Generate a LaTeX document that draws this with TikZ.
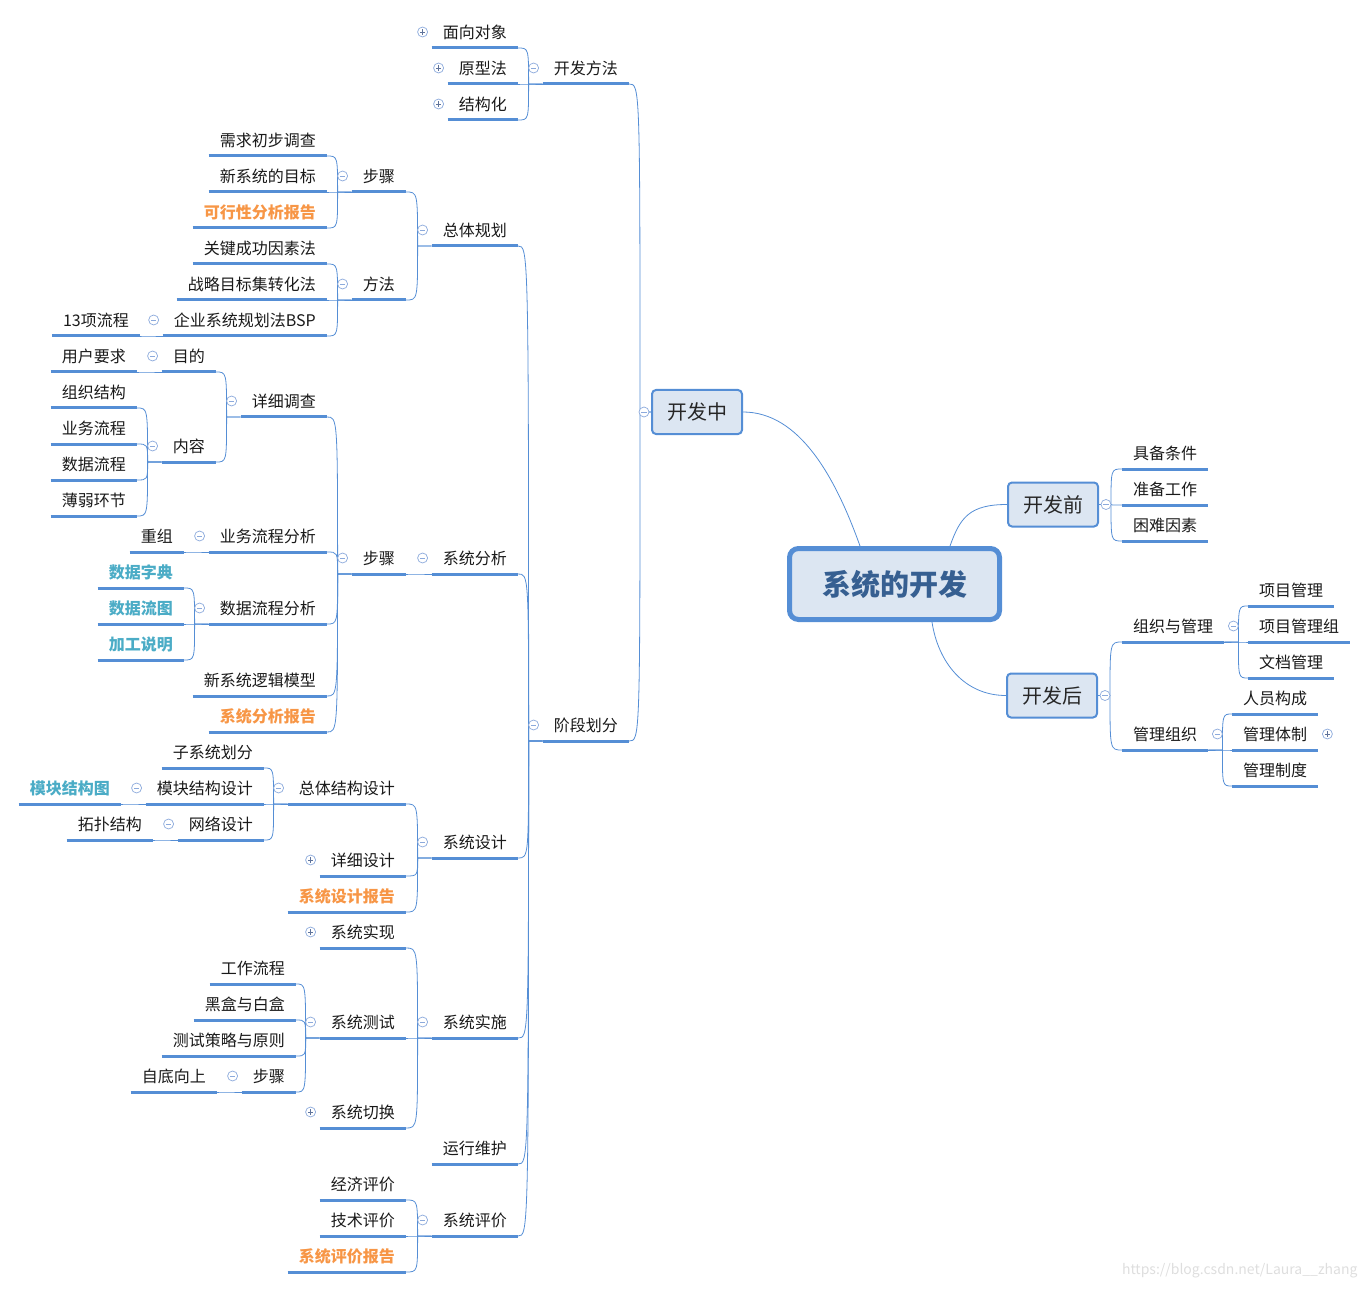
\documentclass[tikz,border=0pt]{standalone}
\usepackage{fontspec}
\setmainfont{Noto Sans CJK SC}
\definecolor{ublue}{RGB}{85,142,213}
\definecolor{boxfill}{RGB}{220,230,242}
\definecolor{rootblue}{RGB}{54,95,145}
\definecolor{orng}{RGB}{247,150,70}
\definecolor{tealb}{RGB}{75,172,198}
\definecolor{mkc}{RGB}{140,170,220}
\definecolor{mkd}{RGB}{95,115,155}
\tikzset{
    uline/.style={draw=ublue,line width=3pt},
    conn/.style={draw=ublue,line width=0.8pt},
    leaf/.style={inner xsep=11pt,inner ysep=0pt,minimum height=32pt,text height=14pt,text depth=0pt,
        text=black!90,font=\fontsize{16}{19}\selectfont,
        append after command={(\tikzlastnode.south west) edge[uline] (\tikzlastnode.south east)}},
    lt/.style={leaf,anchor=south east},
    rt/.style={leaf,anchor=south west},
    hot/.style={text=orng,font=\fontsize{16}{19}\selectfont\bfseries},
    cool/.style={text=tealb,font=\fontsize{16}{19}\selectfont\bfseries},
    box/.style={draw=ublue,line width=2pt,fill=boxfill,rounded corners=4pt,minimum width=90pt,
        minimum height=44pt,inner sep=0pt,text=black!85,font=\fontsize{20}{24}\selectfont},
    rootbox/.style={draw=ublue,line width=5pt,fill=boxfill,rounded corners=9pt,minimum width=210pt,
        minimum height=71pt,inner sep=0pt,text=rootblue,font=\fontsize{29}{34}\selectfont\bfseries},
    lb/.style={conn,to path={-- ++(-#1,0) coordinate (j) .. controls (j |- \tikztotarget) .. (\tikztotarget)}},
    lb/.default=14,
    rb/.style={conn,to path={-- ++(#1,0) coordinate (j) .. controls (j |- \tikztotarget) .. (\tikztotarget)}},
    rb/.default=14,
    fold/.style={circle,draw=mkc,fill=white,line width=0.7pt,minimum size=10pt,inner sep=0pt,
        path picture={\draw[mkc,line width=0.8pt] ([xshift=-2.6pt]path picture bounding box.center)
            -- ([xshift=2.6pt]path picture bounding box.center);}},
    unfold/.style={circle,draw=mkc,fill=white,line width=0.7pt,minimum size=10pt,inner sep=0pt,
        path picture={\draw[mkd,line width=0.8pt] ([xshift=-2.6pt]path picture bounding box.center)
            -- ([xshift=2.6pt]path picture bounding box.center)
            ([yshift=-2.6pt]path picture bounding box.center) -- ([yshift=2.6pt]path picture bounding box.center);}}
}

\begin{document}
\begin{tikzpicture}[x=1pt,y=-1pt]
    \useasboundingbox (0,0) rectangle (1369,1289);

    % centre and main branches
    \node (root) at (894.5,584) [rootbox] {系统的开发};
    \node (kfz) at (697,412) [box] {开发中};
    \node (kfq) at (1053,504.5) [box] {开发前};
    \node (kfh) at (1052,695.5) [box] {开发后};

    % nodes, 开发方法
    \node (kfff) at (629,84) [lt] {开发方法};
    \node (mxdx) at (518,48) [lt] {面向对象};
    \node (yxf) at (518,84) [lt] {原型法};
    \node (jgh) at (518,120) [lt] {结构化};

    % nodes, 阶段划分
    \node (jdhf) at (629,741) [lt] {阶段划分};
    \node (ztgh) at (518,246) [lt] {总体规划};
    \node (bz) at (406,192) [lt] {步骤};
    \node (xqdc) at (327,156) [lt] {需求初步调查};
    \node (xmb) at (327,192) [lt] {新系统的目标};
    \node (kxx) at (327,228) [lt,hot] {可行性分析报告};
    \node (ff) at (406,300) [lt] {方法};
    \node (gjcg) at (327,264) [lt] {关键成功因素法};
    \node (zlmb) at (327,300) [lt] {战略目标集转化法};
    \node (bsp) at (327,336) [lt] {企业系统规划法BSP};
    \node (lc) at (140,336) [lt] {13项流程};

    \node (xtfx) at (518,574) [lt] {系统分析};
    \node (fxbz) at (406,574) [lt] {步骤};
    \node (xxdc) at (327,417) [lt] {详细调查};
    \node (md) at (216,372) [lt] {目的};
    \node (yhyq) at (137,372) [lt] {用户要求};
    \node (nr) at (216,462) [lt] {内容};
    \node (zzjg) at (137,408) [lt] {组织结构};
    \node (ywlc) at (137,444) [lt] {业务流程};
    \node (sjlc) at (137,480) [lt] {数据流程};
    \node (rbhj) at (137,516) [lt] {薄弱环节};
    \node (ywfx) at (327,552) [lt] {业务流程分析};
    \node (cz) at (184,552) [lt] {重组};
    \node (sjfx) at (327,624) [lt] {数据流程分析};
    \node (sjzd) at (184,588) [lt,cool] {数据字典};
    \node (sjlt) at (184,624) [lt,cool] {数据流图};
    \node (jgsm) at (184,660) [lt,cool] {加工说明};
    \node (ljmx) at (327,696) [lt] {新系统逻辑模型};
    \node (fxbg) at (327,732) [lt,hot] {系统分析报告};

    \node (xtsj) at (518,858) [lt] {系统设计};
    \node (ztjg) at (406,804) [lt] {总体结构设计};
    \node (zxt) at (264,768) [lt] {子系统划分};
    \node (mksj) at (264,804) [lt] {模块结构设计};
    \node (mkt) at (121,804) [lt,cool] {模块结构图};
    \node (wlsj) at (264,840) [lt] {网络设计};
    \node (tpjg) at (153,840) [lt] {拓扑结构};
    \node (xxsj) at (406,876) [lt] {详细设计};
    \node (sjbg) at (406,912) [lt,hot] {系统设计报告};

    \node (xtss) at (518,1038) [lt] {系统实施};
    \node (xtsx) at (406,948) [lt] {系统实现};
    \node (xtcs) at (406,1038) [lt] {系统测试};
    \node (gzlc) at (296,984) [lt] {工作流程};
    \node (hbh) at (296,1020) [lt] {黑盒与白盒};
    \node (csc) at (296,1056) [lt] {测试策略与原则};
    \node (csbz) at (296,1092) [lt] {步骤};
    \node (zdxs) at (217,1092) [lt] {自底向上};
    \node (xtqh) at (406,1128) [lt] {系统切换};

    \node (yxwh) at (518,1164) [lt] {运行维护};
    \node (xtpj) at (518,1236) [lt] {系统评价};
    \node (jjpj) at (406,1200) [lt] {经济评价};
    \node (jspj) at (406,1236) [lt] {技术评价};
    \node (pjbg) at (406,1272) [lt,hot] {系统评价报告};

    % nodes, right side
    \node (jbtj) at (1122,469) [rt] {具备条件};
    \node (zbgz) at (1122,505) [rt] {准备工作};
    \node (knys) at (1122,541) [rt] {困难因素};
    \node (zzgl) at (1122,642) [rt] {组织与管理};
    \node (xmgl) at (1248,606) [rt] {项目管理};
    \node (xmglz) at (1248,642) [rt] {项目管理组};
    \node (wdgl) at (1248,678) [rt] {文档管理};
    \node (glzz) at (1122,750) [rt] {管理组织};
    \node (rygc) at (1232,714) [rt] {人员构成};
    \node (gltz) at (1232,750) [rt] {管理体制};
    \node (glzd) at (1232,786) [rt] {管理制度};

    % paths from the centre
    \draw[conn] (kfz.east) .. controls +(56,0) and +(-25,-70) .. ([xshift=-34.5pt]root.north);
    \draw[conn] (kfq.west) .. controls +(-38,0) and +(10,-28) .. ([xshift=55.5pt]root.north);
    \draw[conn] (kfh.west) .. controls +(-42,0) and +(6,40) .. ([xshift=37.5pt]root.south);

    % paths, left side
    \path (kfz.west) edge[lb=11] (kfff.south east) edge[lb=11] (jdhf.south east);
    \path (kfff.south west) edge[lb] (mxdx.south east) edge[lb] (yxf.south east) edge[lb] (jgh.south east);
    \path (jdhf.south west) edge[lb] (ztgh.south east) edge[lb] (xtfx.south east) edge[lb] (xtsj.south east)
        edge[lb] (xtss.south east) edge[lb] (yxwh.south east) edge[lb] (xtpj.south east);
    \path (ztgh.south west) edge[lb] (bz.south east) edge[lb] (ff.south east);
    \path (bz.south west) edge[lb] (xqdc.south east) edge[lb] (xmb.south east) edge[lb] (kxx.south east);
    \path (ff.south west) edge[lb] (gjcg.south east) edge[lb] (zlmb.south east) edge[lb] (bsp.south east);
    \path (bsp.south west) edge[lb] (lc.south east);
    \path (xtfx.south west) edge[lb] (fxbz.south east);
    \path (fxbz.south west) edge[lb] (xxdc.south east) edge[lb] (ywfx.south east) edge[lb] (sjfx.south east)
        edge[lb] (ljmx.south east) edge[lb] (fxbg.south east);
    \path (xxdc.south west) edge[lb] (md.south east) edge[lb] (nr.south east);
    \path (md.south west) edge[lb] (yhyq.south east);
    \path (nr.south west) edge[lb] (zzjg.south east) edge[lb] (ywlc.south east) edge[lb] (sjlc.south east)
        edge[lb] (rbhj.south east);
    \path (ywfx.south west) edge[lb] (cz.south east);
    \path (sjfx.south west) edge[lb] (sjzd.south east) edge[lb] (sjlt.south east) edge[lb] (jgsm.south east);
    \path (xtsj.south west) edge[lb] (ztjg.south east) edge[lb] (xxsj.south east) edge[lb] (sjbg.south east);
    \path (ztjg.south west) edge[lb] (zxt.south east) edge[lb] (mksj.south east) edge[lb] (wlsj.south east);
    \path (mksj.south west) edge[lb] (mkt.south east);
    \path (wlsj.south west) edge[lb] (tpjg.south east);
    \path (xtss.south west) edge[lb] (xtsx.south east) edge[lb] (xtcs.south east) edge[lb] (xtqh.south east);
    \path (xtcs.south west) edge[lb] (gzlc.south east) edge[lb] (hbh.south east) edge[lb] (csc.south east)
        edge[lb] (csbz.south east);
    \path (csbz.south west) edge[lb] (zdxs.south east);
    \path (xtpj.south west) edge[lb] (jjpj.south east) edge[lb] (jspj.south east) edge[lb] (pjbg.south east);

    % paths, right side
    \path (kfq.east) edge[rb=12] (jbtj.south west) edge[rb=12] (zbgz.south west) edge[rb=12] (knys.south west);
    \path (kfh.east) edge[rb=12] (zzgl.south west) edge[rb=12] (glzz.south west);
    \path (zzgl.south east) edge[rb] (xmgl.south west) edge[rb] (xmglz.south west) edge[rb] (wdgl.south west);
    \path (glzz.south east) edge[rb] (rygc.south west) edge[rb] (gltz.south west) edge[rb] (glzd.south west);

    % fold marks
    \node (kfz-m) at ([xshift=-7pt]kfz.west) [fold] {};
    \node (kfq-m) at ([xshift=7pt]kfq.east) [fold] {};
    \node (kfh-m) at ([xshift=7pt]kfh.east) [fold] {};
    \foreach \n in {kfff,jdhf,ztgh,bz,ff,bsp,xtfx,fxbz,xxdc,md,nr,ywfx,sjfx,xtsj,ztjg,mksj,wlsj,xtss,xtcs,csbz,xtpj}
        \node (\n-m) at ([shift={(-9,-16)}]\n.south west) [fold] {};
    \foreach \n in {mxdx,yxf,jgh,xxsj,xtsx,xtqh}
        \node (\n-m) at ([shift={(-9,-16)}]\n.south west) [unfold] {};
    \foreach \n in {zzgl,glzz}
        \node (\n-m) at ([shift={(9,-16)}]\n.south east) [fold] {};
    \node (gltz-m) at ([shift={(9,-16)}]gltz.south east) [unfold] {};

    % watermark
    \node (wm) at (1361,1271) [anchor=east,text=black!13,font=\fontsize{14}{16}\selectfont] {https://blog.csdn.net/Laura\_\_zhang};
\end{tikzpicture}
\end{document}
